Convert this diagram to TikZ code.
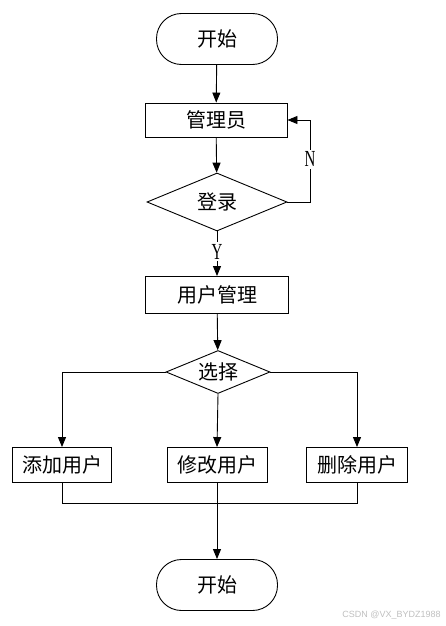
\documentclass[tikz,border=0pt]{standalone}
\usepackage{fontspec}
\newfontfamily\cjk{Noto Sans CJK SC}
\newfontfamily\wmfont{Liberation Sans}
\setmainfont{Liberation Serif}
\usetikzlibrary{shapes.geometric,arrows.meta}
\begin{document}
\begin{tikzpicture}[x=1pt,y=-1pt,line width=0.9pt,
  cjkfont/.style={font=\cjk\fontsize{20}{20}\selectfont},
  box/.style={draw,rectangle,inner sep=0pt,cjkfont},
  term/.style={draw,rectangle,rounded corners=25pt,minimum width=121pt,minimum height=51pt,inner sep=0pt,cjkfont},
  dec/.style={draw,diamond,inner sep=0pt,cjkfont},
  arr/.style={-{Triangle[length=10pt,width=8pt]}},
  lab/.style={font=\fontsize{23}{23}\selectfont,fill=white,inner xsep=1pt,inner ysep=2pt}]
\useasboundingbox (0,0) rectangle (445,626);
\node[term] (start) at (217,39) {开始};
\node[box,minimum width=142pt,minimum height=34pt] (admin) at (216,120) {管理员};
\node[dec,minimum width=140pt,minimum height=58pt,aspect=2.4] (login) at (217,202) {登录};
\node[box,minimum width=143pt,minimum height=37pt] (umgr) at (217,295) {用户管理};
\node[dec,minimum width=104pt,minimum height=43pt,aspect=2.4] (sel) at (218,372) {选择};
\node[box,minimum width=99pt,minimum height=35pt] (add) at (62,465) {添加用户};
\node[box,minimum width=100pt,minimum height=35pt] (mod) at (217,465) {修改用户};
\node[box,minimum width=101pt,minimum height=35pt] (del) at (357,465) {删除用户};
\node[term] (end) at (217,585) {开始};
\coordinate (nr) at (310,202);
\coordinate (nt) at (310,120);
\coordinate (mL) at (62,503);
\coordinate (mR) at (357,503);
\node[font=\wmfont\fontsize{9}{9}\selectfont,text=black!25,anchor=west,inner sep=0pt] (wm) at (342,615) {CSDN @VX\_BYDZ1988};

\draw[arr] (start) -- (admin);
\draw[arr] (admin) -- (login);
\draw[arr] (login.east) -- (nr) -- node[lab,pos=0.52] (N) {\scalebox{0.65}[1]{N}} (nt) -- (admin.east);
\draw[arr] (login.south) -- node[lab,pos=0.45] (Y) {\scalebox{0.65}[1]{Y}} (umgr.north);
\draw[arr] (umgr) -- (sel);
\draw[arr] (sel.west) -| (add.north);
\draw[arr] (sel.east) -| (del.north);
\draw[arr] (sel.south) -- (mod.north);
\draw (add.south) -- (mL) -- (mR) -- (del.south);
\draw[arr] (mod.south) -- (end.north);
\end{tikzpicture}
\end{document}
